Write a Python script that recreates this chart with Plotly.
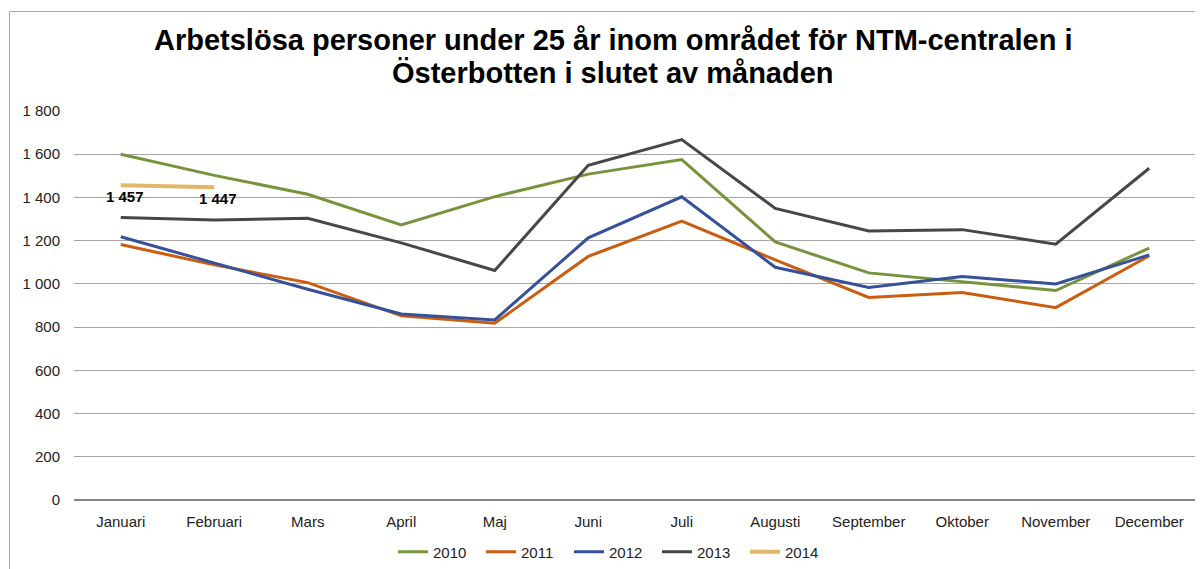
import plotly.graph_objects as go

months = ["Januari", "Februari", "Mars", "April", "Maj", "Juni", "Juli",
          "Augusti", "September", "Oktober", "November", "December"]
v2010 = [1600, 1502, 1415, 1273, 1404, 1508, 1575, 1194, 1051, 1011, 969, 1166]
v2011 = [1182, 1088, 1006, 852, 818, 1127, 1290, 1111, 937, 960, 890, 1130]
v2012 = [1218, 1096, 975, 861, 833, 1213, 1403, 1077, 983, 1034, 1000, 1134]
v2013 = [1307, 1296, 1304, 1190, 1062, 1549, 1668, 1349, 1245, 1251, 1184, 1535]
v2014 = [1457, 1447]
years = ["2010", "2011", "2012", "2013", "2014"]
colors = ["#77933C", "#CB5D10", "#36519A", "#474747", "#E2B767"]
title_lines = ["Arbetslösa personer under 25 år inom området för NTM-centralen i",
               "Österbotten i slutet av månaden"]
y_ticks = [0, 200, 400, 600, 800, 1000, 1200, 1400, 1600, 1800]

# page body has an 8px default margin; work in screen pixels and subtract it
OFF = 8
W, H = 1203, 569
ML = 74 - OFF
MR = W - (1196 - OFF)
MT = 111 - OFF
MB = H - (500 - OFF)
FONT = "Liberation Sans, Arial, sans-serif"

fig = go.Figure()
series = [v2010, v2011, v2012, v2013]
for name, vals, col in zip(years[:4], series, colors[:4]):
    fig.add_trace(go.Scatter(x=months[:len(vals)], y=vals, name=name, mode="lines",
                             line=dict(color=col, width=3), hoverinfo="x+y"))
fig.add_trace(go.Scatter(x=months[:len(v2014)], y=v2014, name=years[4], mode="lines",
                         line=dict(color=colors[4], width=4), hoverinfo="x+y"))

pw = W - ML - MR
ph = H - MT - MB
def px_x(p):
    return (p - OFF - ML) / pw
def px_y(p):
    return (H - MB - (p - OFF)) / ph

annotations = []
for line, yc in zip(title_lines, [40, 73]):
    annotations.append(dict(text="<b>" + line + "</b>", xref="paper", yref="paper",
                            x=px_x(613), y=px_y(yc), xanchor="center", yanchor="middle",
                            showarrow=False,
                            font=dict(family=FONT, size=29, color="#000000")))
for m, v in zip(months, v2014):
    annotations.append(dict(text="<b>" + f"{v:,}".replace(",", " ") + "</b>",
                            x=m, y=v, xref="x", yref="y", showarrow=False,
                            xanchor="center", yanchor="middle", yshift=-11, xshift=4,
                            font=dict(family=FONT, size=15, color="#000000")))

fig.update_layout(
    width=W, height=H,
    margin=dict(l=ML, r=MR, t=MT, b=MB, pad=0, autoexpand=False),
    paper_bgcolor="white", plot_bgcolor="white",
    separators=", ",
    font=dict(family=FONT, size=15, color="#222222"),
    showlegend=True,
    legend=dict(orientation="h", x=px_x(613), xanchor="center", y=px_y(552), yanchor="middle",
                font=dict(family=FONT, size=15, color="#222222"), itemwidth=30,
                entrywidth=43, bgcolor="rgba(0,0,0,0)"),
    xaxis=dict(type="category", categoryorder="array", categoryarray=months,
               showgrid=False, showline=False, ticks="", zeroline=False, automargin=False,
               ticklabelstandoff=11,
               tickfont=dict(family=FONT, size=15, color="#222222"), range=[-0.5, 11.5],
               fixedrange=True),
    yaxis=dict(range=[0, 1800], tickvals=y_ticks, tickformat=",d", automargin=False,
               showgrid=True, gridcolor="#A6A6A6", gridwidth=1,
               zeroline=True, zerolinecolor="#868686", zerolinewidth=2,
               showline=False, ticks="", ticklabelstandoff=13,
               tickfont=dict(family=FONT, size=15, color="#222222"), fixedrange=True),
    annotations=annotations,
    shapes=[dict(type="rect", xref="paper", yref="paper",
                 x0=px_x(9.5), x1=px_x(1240), y0=px_y(11.5), y1=px_y(620),
                 line=dict(color="#A6A6A6", width=1), layer="below")],
)

fig.write_html("out.html")
